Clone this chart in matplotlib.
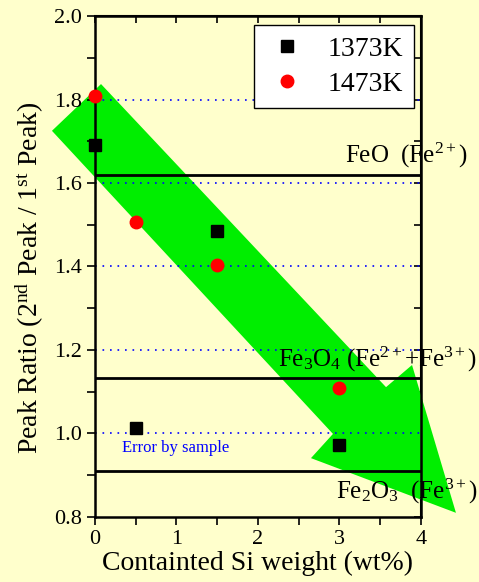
import matplotlib
matplotlib.use("Agg")
import matplotlib.pyplot as plt
from matplotlib.patches import Polygon
from matplotlib.ticker import MultipleLocator

plt.rcParams['font.family'] = ['Liberation Serif', 'DejaVu Serif']
plt.rcParams['mathtext.fontset'] = 'custom'
plt.rcParams['mathtext.rm'] = 'Liberation Serif'
plt.rcParams['mathtext.it'] = 'Liberation Serif:italic'

# Data
si_1373 = [0.0, 0.5, 1.5, 3.0]
ratio_1373 = [1.69, 1.013, 1.485, 0.972]
si_1473 = [0.0, 0.5, 1.5, 3.0]
ratio_1473 = [1.808, 1.506, 1.404, 1.109]
ref_levels = [1.62, 1.133, 0.91]
grid_levels = [1.8, 1.6, 1.4, 1.2, 1.0]
xticks = [0, 1, 2, 3, 4]
yticks = [0.8, 1.0, 1.2, 1.4, 1.6, 1.8, 2.0]
# green trend arrow outline (data units)
arrow_x = [0.074, 3.571, 3.890, 4.429, 2.650, 2.920, -0.528]
arrow_y = [1.837, 1.111, 1.164, 0.810, 0.941, 0.999, 1.725]

bg = '#FFFFCC'
fig = plt.figure(figsize=(4.79, 5.82), dpi=100, facecolor=bg)
ax = fig.add_axes([0.1983, 0.1117, 0.6806, 0.8608])
ax.set_facecolor(bg)
ax.set_xlim(0, 4)
ax.set_ylim(0.8, 2.0)

poly = Polygon(list(zip(arrow_x, arrow_y)), closed=True, facecolor='#00EE00',
               edgecolor='none', zorder=1, clip_on=False)
ax.add_patch(poly)

for g in grid_levels:
    ax.plot([0, 4], [g, g], color='blue', ls=(0, (1, 3.5)), lw=1.2, zorder=2)
for r in ref_levels:
    ax.plot([0, 4], [r, r], color='black', lw=2.0, zorder=3)

ax.plot(si_1373, ratio_1373, 's', color='black', ms=8, label='1373K', zorder=5, clip_on=False)
ax.plot(si_1473, ratio_1473, 'o', color='red', ms=9, label='1473K', zorder=5, clip_on=False)

leg = ax.legend(loc='upper right', bbox_to_anchor=(0.9785, 0.982), borderaxespad=0,
                fontsize=20, frameon=True, fancybox=False, edgecolor='black',
                facecolor='white', framealpha=1, handletextpad=0.65, borderpad=0.4,
                labelspacing=0.35, handlelength=1.6)
leg.get_frame().set_linewidth(1.0)
leg.set_zorder(6)

ax.text(3.07, 1.65, r'FeO  (Fe$^{2+}$)', fontsize=18, zorder=7, clip_on=False)
ax.text(2.24, 1.16, r'Fe$_3$O$_4$ (Fe$^{2+}$+Fe$^{3+}$)', fontsize=18, zorder=7, clip_on=False)
ax.text(2.96, 0.845, r'Fe$_2$O$_3$  (Fe$^{3+}$)', fontsize=18, zorder=7, clip_on=False)
ax.text(0.33, 0.955, 'Error by sample', fontsize=12, color='blue', zorder=7)

ax.set_xticks(xticks)
ax.set_yticks(yticks)
ax.set_yticklabels([f'{v:.1f}' for v in yticks])
ax.xaxis.set_minor_locator(MultipleLocator(0.5))
ax.yaxis.set_minor_locator(MultipleLocator(0.1))
ax.tick_params(axis='both', which='both', direction='out', width=1.2, labelsize=16,
               top=False, right=False, length=6)

# inward ticks on top and right
axt = ax.secondary_xaxis('top')
axt.set_xticks([x * 0.5 for x in range(9)])
axt.tick_params(direction='in', length=5, width=1.2, labeltop=False)
axr = ax.secondary_yaxis('right')
axr.set_yticks([0.8 + 0.1 * i for i in range(13)])
axr.tick_params(direction='in', length=5, width=1.2, labelright=False)
for a in (axt, axr):
    for s in a.spines.values():
        s.set_linewidth(1.5)

for s in ax.spines.values():
    s.set_linewidth(1.8)
    s.set_zorder(4)

ax.set_xlabel('Containted Si weight (wt%)', fontsize=20, labelpad=1)
ax.set_ylabel(r'Peak Ratio (2$^{\rm nd}$ Peak / 1$^{\rm st}$ Peak)', fontsize=20)
ax.yaxis.set_label_coords(-0.15, 0.478)

fig.savefig('out.png', dpi=100, facecolor=bg)
